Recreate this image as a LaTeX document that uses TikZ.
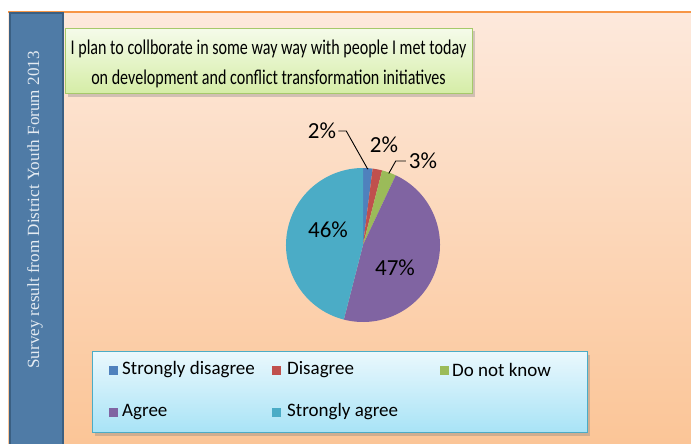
\documentclass[tikz,border=0pt]{standalone}
\usepackage{fontspec}
\setmainfont{Carlito}
\newfontfamily\sidefont{Liberation Serif}
\usetikzlibrary{shadows,calc}
\definecolor{sdblue}{HTML}{4F81BD}
\definecolor{disred}{HTML}{C0504D}
\definecolor{dnkgreen}{HTML}{9BBB59}
\definecolor{agpurple}{HTML}{8064A2}
\definecolor{sateal}{HTML}{4BACC6}
\definecolor{panelTop}{HTML}{FDE9DC}
\definecolor{panelBot}{HTML}{FBC597}
\definecolor{orangeLine}{HTML}{F79646}
\definecolor{sideFill}{HTML}{4F7BA6}
\definecolor{sideBorder}{HTML}{3A5F82}
\definecolor{sideText}{HTML}{E4EBF2}
\definecolor{titleTop}{HTML}{F5FBEA}
\definecolor{titleBot}{HTML}{D5EDA6}
\definecolor{titleBorder}{HTML}{A6C96A}
\definecolor{legTop}{HTML}{EAF8FD}
\definecolor{legBot}{HTML}{A8E3F6}
\definecolor{legBorder}{HTML}{4BACC6}
\tikzset{
  titlebox/.style={draw=titleBorder, line width=1pt, top color=titleTop, bottom color=titleBot,
    drop shadow={shadow xshift=2pt, shadow yshift=-3pt, opacity=0.35}},
  legbox/.style={draw=legBorder, line width=1pt, top color=legTop, bottom color=legBot,
    drop shadow={shadow xshift=2pt, shadow yshift=-3pt, opacity=0.35}},
  pct/.style={font=\fontsize{23}{26}\selectfont, inner sep=0pt},
  legsq/.style={minimum size=9pt, inner sep=0pt},
  legtxt/.style={font=\fontsize{19}{22}\selectfont, anchor=west, inner sep=0pt},
  leader/.style={draw=black, line width=0.9pt}
}
\begin{document}
\begin{tikzpicture}[x=1pt,y=-1pt]
\useasboundingbox (0,0) rectangle (691,444);
\fill[white] (0,0) rectangle (691,444);
% panel
\shade[top color=panelTop, bottom color=panelBot] (8,12) rectangle (691,444);
\draw[orangeLine, line width=1.5pt] (8,12) -- (691,12);
% side bar
\node[draw=sideBorder, line width=2pt, fill=sideFill, minimum width=53pt, minimum height=434pt,
  anchor=north west, inner sep=0pt] (side) at (9,12) {};
\node[rotate=90, font=\sidefont\fontsize{17.1}{20}\selectfont, text=sideText] (sidetxt) at (35,210)
  {Survey result from District Youth Forum 2013};
% title
\node[titlebox, minimum width=407pt, minimum height=65pt, anchor=north west, inner sep=0pt] (title) at (65,28) {};
\begin{scope}[shift={(268.5,64)}]
\node[font=\fontsize{21}{30}\selectfont, align=center, inner sep=0pt, xscale=0.765, transform shape] (titletxt) at (0,0)
  {I plan to collborate in some way way with people I met today\\on development and conflict transformation initiatives};
\end{scope}
% pie
\coordinate (c) at (363,245);
\fill[sdblue] (c) -- ($(c)+(90:77pt)$) arc[start angle=90, end angle=82.8, radius=77pt] -- cycle;
\fill[disred] (c) -- ($(c)+(82.8:77pt)$) arc[start angle=82.8, end angle=75.6, radius=77pt] -- cycle;
\fill[dnkgreen] (c) -- ($(c)+(75.6:77pt)$) arc[start angle=75.6, end angle=64.8, radius=77pt] -- cycle;
\fill[agpurple] (c) -- ($(c)+(64.8:77pt)$) arc[start angle=64.8, end angle=-104.4, radius=77pt] -- cycle;
\fill[sateal] (c) -- ($(c)+(-104.4:77pt)$) arc[start angle=-104.4, end angle=-270, radius=77pt] -- cycle;
% labels
\node[pct] (l1) at (322,131) {2\%};
\node[pct] (l2) at (384,145) {2\%};
\node[pct] (l3) at (423,161) {3\%};
\node[pct] (l4) at (328,230) {46\%};
\node[pct] (l5) at (395,268) {47\%};
\coordinate (p1) at ($(c)+(86.4:76pt)$);
\coordinate (p3) at ($(c)+(70.2:76pt)$);
\draw[leader] ([xshift=2pt]l1.east) -- ++(8pt,0) -- (p1);
\draw[leader] ([xshift=-3pt]l3.west) -- ++(-10pt,0) -- (p3);
% legend
\node[legbox, minimum width=495pt, minimum height=81pt, anchor=north west, inner sep=0pt] (legend) at (92,351) {};
\node[legsq, fill=sdblue] (s1) at (113,370) {};
\node[legtxt] (t1) at (122,370) {Strongly disagree};
\node[legsq, fill=disred] (s2) at (276,370) {};
\node[legtxt] (t2) at (287,370) {Disagree};
\node[legsq, fill=dnkgreen] (s3) at (444,370) {};
\node[legtxt] (t3) at (452,370) {Do not know};
\node[legsq, fill=agpurple] (s4) at (113,412) {};
\node[legtxt] (t4) at (122,412) {Agree};
\node[legsq, fill=sateal] (s5) at (276,412) {};
\node[legtxt] (t5) at (287,412) {Strongly agree};
\end{tikzpicture}
\end{document}
